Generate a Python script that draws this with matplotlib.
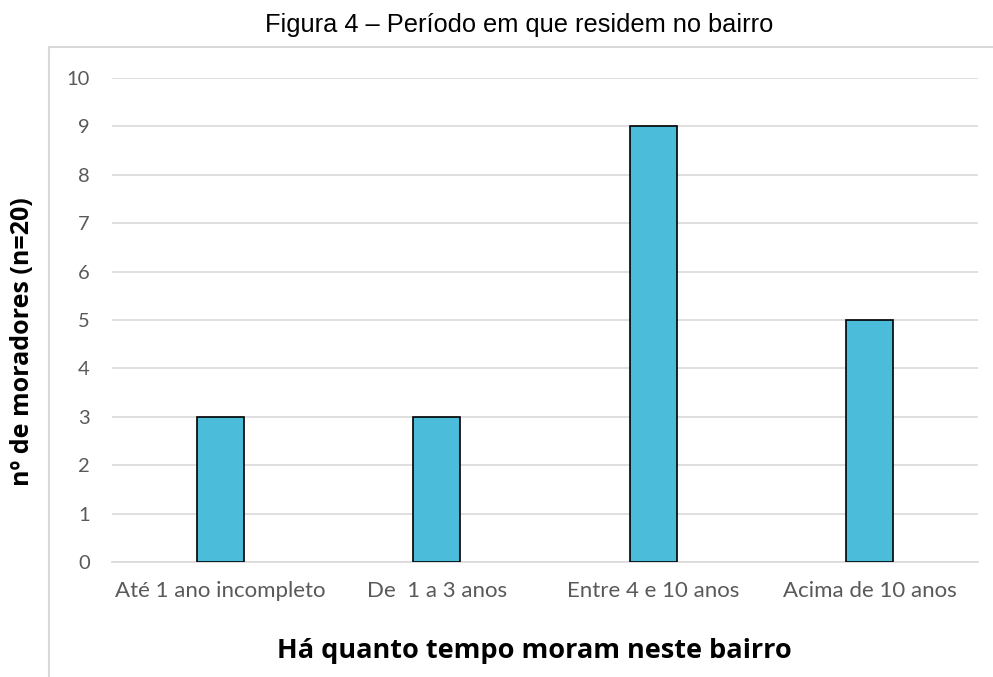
import numpy as np
import matplotlib
matplotlib.use("Agg")
import matplotlib.pyplot as plt
from matplotlib.patches import Rectangle

# chart data
categories = ["Até 1 ano incompleto", "De  1 a 3 anos", "Entre 4 e 10 anos", "Acima de 10 anos"]
moradores = [3, 3, 9, 5]
yticks = list(range(0, 11))

fig = plt.figure(figsize=(9.93, 6.77), dpi=100)
fig.patch.set_facecolor("white")

# outer chart frame (cut off on right/bottom like the source)
frame = Rectangle((49 / 993, -0.1), 1.2, 1 - 47 / 677 + 0.1, transform=fig.transFigure,
                  fill=False, edgecolor="#d9d9d9", linewidth=1.5, zorder=0)
fig.patches.append(frame)

ax = fig.add_axes([112 / 993, 1 - 562 / 677, (978 - 112) / 993, (562 - 78) / 677])
x = np.arange(len(categories))
ax.bar(x, moradores, width=0.217, color="#4bbcd9", edgecolor="black", linewidth=1.2, zorder=3)

ax.set_xlim(-0.5, len(categories) - 0.5)
ax.set_ylim(0, 10)
ax.set_yticks(yticks)
ax.set_xticks(x)
ax.set_xticklabels(categories, fontsize=16, color="#595959", family="Lato")
ax.set_yticklabels([str(v) for v in yticks], fontsize=14.5, color="#595959", family="Lato")
ax.tick_params(axis="both", length=0)
ax.tick_params(axis="x", pad=14)
ax.tick_params(axis="y", pad=16)
ax.yaxis.grid(True, color="#d9d9d9", linewidth=1.2, zorder=0)
ax.set_axisbelow(True)
for s in ["top", "right", "left"]:
    ax.spines[s].set_visible(False)
ax.spines["bottom"].set_color("#d9d9d9")
ax.spines["bottom"].set_linewidth(1.2)

fig.text(534 / 993, 1 - 651 / 677, "Há quanto tempo moram neste bairro", ha="center", va="center",
         fontsize=19.5, fontweight="bold", family="Open Sans")
fig.text(23 / 993, 1 - 342 / 677, "nº de moradores (n=20)", ha="center", va="center", rotation=90,
         fontsize=18, fontweight="bold", family="Open Sans")
fig.text(519 / 993, 1 - 25 / 677, "Figura 4 – Período em que residem no bairro", ha="center", va="center",
         fontsize=18.3, family="Liberation Sans")

fig.savefig("out.png", dpi=100)
